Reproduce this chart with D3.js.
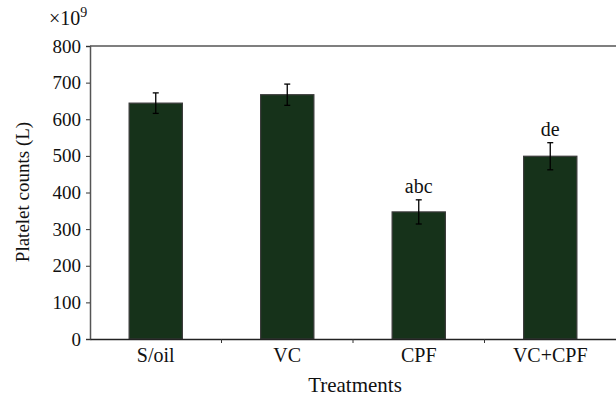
<!DOCTYPE html>
<html lang="en">
<head>
    <meta charset="UTF-8">
    <title>Platelet counts</title>
    <script src="https://cdn.jsdelivr.net/npm/d3@7"></script>
    <style>
        body { margin: 0; background: #fff; }
        text { font-family: "Liberation Serif", "DejaVu Serif", serif; fill: #111; }
    </style>
</head>
<body>
<div id="chart"></div>
<script>
// data
var treatments = ["S/oil", "VC", "CPF", "VC+CPF"];
var plateletMeans = [644, 667, 347, 499];
var plateletErrors = [28, 29, 33, 37];
var letters = ["", "", "abc", "de"];
var yTicks = [0, 100, 200, 300, 400, 500, 600, 700, 800];

var width = 616, height = 400;
var margin = {top: 46, right: 0, bottom: 61, left: 90};
var fs = 19;

var svg = d3.select("#chart").append("svg")
    .attr("width", width)
    .attr("height", height);

var x = d3.scaleBand()
    .domain(treatments)
    .range([margin.left, width - margin.right])
    .paddingInner(0)
    .paddingOuter(0);

var y = d3.scaleLinear()
    .domain([0, 800])
    .range([height - margin.bottom, margin.top]);

var barW = x.bandwidth() * 0.405;

// top frame line
svg.append("line")
    .attr("x1", margin.left).attr("x2", width)
    .attr("y1", y(800)).attr("y2", y(800))
    .attr("stroke", "#555").attr("stroke-width", 1.5);

// bars
svg.selectAll("rect.bar")
    .data(treatments)
    .enter().append("rect")
    .attr("class", "bar")
    .attr("x", function (d) { return x(d) + x.bandwidth() / 2 - barW / 2; })
    .attr("y", function (d, i) { return y(plateletMeans[i]); })
    .attr("width", barW)
    .attr("height", function (d, i) { return y(0) - y(plateletMeans[i]); })
    .attr("fill", "#16321a")
    .attr("stroke", "#3a3a3a")
    .attr("stroke-width", 1.2);

// error bars
var err = svg.selectAll("g.err")
    .data(treatments)
    .enter().append("g")
    .attr("class", "err")
    .attr("stroke", "#000")
    .attr("stroke-width", 1.3);

err.append("line")
    .attr("x1", function (d) { return x(d) + x.bandwidth() / 2; })
    .attr("x2", function (d) { return x(d) + x.bandwidth() / 2; })
    .attr("y1", function (d, i) { return y(plateletMeans[i] - plateletErrors[i]); })
    .attr("y2", function (d, i) { return y(plateletMeans[i] + plateletErrors[i]); });

[-1, 1].forEach(function (s) {
    err.append("line")
        .attr("x1", function (d) { return x(d) + x.bandwidth() / 2 - 3; })
        .attr("x2", function (d) { return x(d) + x.bandwidth() / 2 + 3; })
        .attr("y1", function (d, i) { return y(plateletMeans[i] + s * plateletErrors[i]); })
        .attr("y2", function (d, i) { return y(plateletMeans[i] + s * plateletErrors[i]); });
});

// significance letters
svg.selectAll("text.letter")
    .data(treatments)
    .enter().append("text")
    .attr("class", "letter")
    .attr("x", function (d) { return x(d) + x.bandwidth() / 2; })
    .attr("y", function (d, i) { return y(plateletMeans[i] + plateletErrors[i]) - 7; })
    .attr("text-anchor", "middle")
    .attr("font-size", 20)
    .text(function (d, i) { return letters[i]; });

// y axis
var yAxis = svg.append("g")
    .attr("transform", "translate(" + margin.left + ",0)")
    .call(d3.axisLeft(y).tickValues(yTicks).tickSize(4).tickPadding(5));
yAxis.selectAll("text").attr("font-size", fs).style("font-family", "Liberation Serif, serif").attr("fill", "#111");
yAxis.select(".domain").attr("stroke", "#555").attr("stroke-width", 1.5);
yAxis.selectAll(".tick line").attr("stroke", "#333");

// x axis
var xAxis = svg.append("g")
    .attr("transform", "translate(0," + y(0) + ")")
    .call(d3.axisBottom(x).tickSize(0).tickPadding(9));
xAxis.selectAll("text").attr("font-size", 20).style("font-family", "Liberation Serif, serif").attr("fill", "#111");
xAxis.select(".domain").attr("stroke", "#222").attr("stroke-width", 1.5);

// boundary ticks between categories
svg.selectAll("line.xtick")
    .data(treatments.slice(1))
    .enter().append("line")
    .attr("class", "xtick")
    .attr("x1", function (d) { return x(d); })
    .attr("x2", function (d) { return x(d); })
    .attr("y1", y(0)).attr("y2", y(0) + 4)
    .attr("stroke", "#333");

// axis titles
svg.append("text")
    .attr("x", 355)
    .attr("y", 392)
    .attr("text-anchor", "middle")
    .attr("font-size", 21)
    .text("Treatments");

svg.append("text")
    .attr("transform", "translate(29,192) rotate(-90)")
    .attr("text-anchor", "middle")
    .attr("font-size", 19)
    .text("Platelet counts (L)");

var mult = svg.append("text")
    .attr("x", 49)
    .attr("y", 25)
    .attr("font-size", 20);
mult.append("tspan").text("\u00d710");
mult.append("tspan").attr("dy", -8).attr("font-size", 14).text("9");
</script>
</body>
</html>
